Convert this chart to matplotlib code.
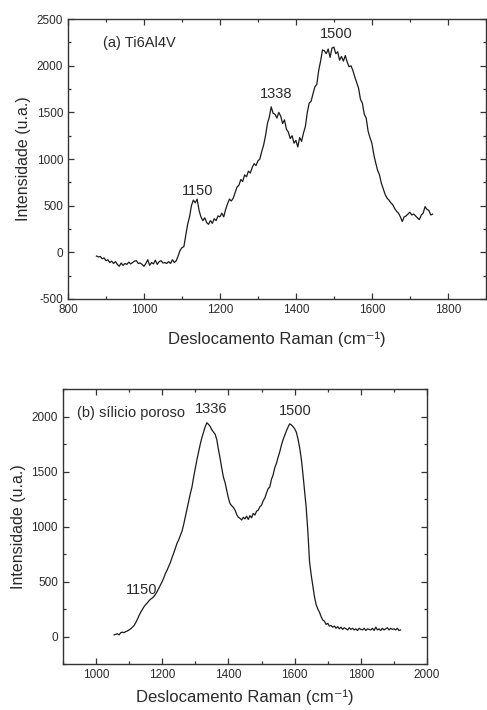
#Raman spectra: (a) Ti6Al4V and (b) porous silicon
import numpy as np
import matplotlib
matplotlib.use("Agg")
import matplotlib.pyplot as plt
from matplotlib.ticker import MultipleLocator

#spectrum (a): Ti6Al4V, sampled every 5 cm-1 from 875 to 1760
shiftA = np.arange(875, 1761, 5)
intensA = [
    -40, -50, -45, -70, -60, -90, -80, -110, -95, -120,
    -100, -130, -150, -115, -140, -120, -130, -105, -125, -110,
    -95, -90, -120, -115, -130, -150, -120, -80, -140, -110,
    -125, -85, -130, -100, -90, -115, -110, -120, -100, -120,
    -80, -110, -90, -40, 20, 50, 60, 180, 300, 380,
    500, 560, 530, 570, 450, 380, 340, 370, 320, 300,
    340, 310, 360, 340, 390, 380, 420, 380, 460, 520,
    570, 550, 580, 640, 700, 720, 780, 760, 830, 810,
    870, 850, 910, 950, 930, 980, 1000, 1080, 1150, 1250,
    1380, 1450, 1560, 1490, 1480, 1440, 1500, 1460, 1380, 1420,
    1320, 1290, 1220, 1250, 1170, 1200, 1130, 1230, 1190, 1280,
    1350, 1500, 1600, 1620, 1700, 1775, 1800, 1950, 2050, 2170,
    2160, 2130, 2180, 2090, 2190, 2200, 2130, 2150, 2060, 2100,
    2050, 2110, 2040, 1990, 2000, 1950, 1880, 1820, 1760, 1640,
    1600, 1480, 1440, 1300, 1230, 1170, 1050, 960, 880, 830,
    740, 680, 620, 580, 560, 530, 510, 470, 440, 420,
    380, 330, 380, 390, 410, 430, 400, 410, 390, 370,
    350, 400, 420, 490, 460, 450, 400, 410,
]

#spectrum (b): porous silicon, sampled every 5 cm-1 from 1055 to 1920
shiftB = np.arange(1055, 1921, 5)
intensB = [
    15, 20, 25, 15, 35, 40, 35, 45, 50, 60,
    70, 85, 100, 125, 155, 190, 220, 245, 270, 290,
    305, 325, 340, 350, 365, 385, 410, 440, 470, 500,
    535, 575, 605, 640, 675, 720, 760, 805, 850, 880,
    920, 960, 1020, 1090, 1160, 1230, 1300, 1360, 1450, 1530,
    1610, 1680, 1750, 1810, 1860, 1910, 1945, 1930, 1910, 1880,
    1860, 1840, 1790, 1700, 1620, 1530, 1450, 1400, 1330, 1260,
    1210, 1190, 1175, 1150, 1110, 1085, 1075, 1060, 1085, 1070,
    1095, 1065, 1100, 1080, 1120, 1105, 1140, 1150, 1180, 1195,
    1235, 1260, 1305, 1345, 1360, 1430, 1470, 1535, 1575, 1630,
    1680, 1740, 1790, 1830, 1870, 1905, 1935, 1925, 1910, 1890,
    1860, 1800, 1720, 1620, 1480, 1330, 1170, 950, 680, 560,
    460, 360, 290, 250, 220, 180, 150, 140, 110, 120,
    95, 100, 85, 95, 75, 90, 70, 85, 65, 80,
    70, 60, 80, 65, 75, 60, 70, 55, 75, 65,
    60, 75, 55, 70, 65, 60, 75, 55, 85, 60,
    70, 55, 75, 60, 70, 80, 60, 75, 65, 70,
    60, 75, 55, 60,
]

#peak labels (position, height, text)
peaksA = [(1142, 657, "1150"), (1347, 1694, "1338"), (1505, 2340, "1500")]
peaksB = [(1138, 425, "1150"), (1349, 2070, "1336"), (1601, 2048, "1500")]

textCol = "#2a2a2a"
plt.rcParams["font.family"] = ["Liberation Sans", "DejaVu Sans"]
plt.rcParams["axes.unicode_minus"] = False
plt.rcParams["text.color"] = textCol
plt.rcParams["axes.labelcolor"] = textCol
plt.rcParams["xtick.color"] = "#333333"
plt.rcParams["ytick.color"] = "#333333"
plt.rcParams["xtick.labelcolor"] = textCol
plt.rcParams["ytick.labelcolor"] = textCol

fig = plt.figure(figsize=(4.87, 7.10), dpi=100)
axA = fig.add_axes([0.1396, 0.579, 0.858, 0.394])
axB = fig.add_axes([0.129, 0.0648, 0.748, 0.387])


def style(ax, xmaj, ymaj, xpad, ypad):
    ax.xaxis.set_major_locator(MultipleLocator(xmaj))
    ax.xaxis.set_minor_locator(MultipleLocator(xmaj / 2))
    ax.yaxis.set_major_locator(MultipleLocator(ymaj))
    ax.yaxis.set_minor_locator(MultipleLocator(ymaj / 2))
    ax.tick_params(which="both", direction="in", top=True, right=True,
                   labelsize=8.5, width=0.9)
    ax.tick_params(which="major", length=4)
    ax.tick_params(which="minor", length=2.5)
    for s in ax.spines.values():
        s.set_linewidth(1.0)
        s.set_color("#333333")
    ax.set_xlabel("Deslocamento Raman (cm⁻¹)", fontsize=12, labelpad=xpad)
    ax.set_ylabel("Intensidade (u.a.)", fontsize=11.5, labelpad=ypad)


#(a) Ti6Al4V
axA.plot(shiftA, intensA, color="#1a1a1a", lw=0.9)
axA.set_xlim(800, 1900)
axA.set_ylim(-500, 2500)
style(axA, 200, 500, 11, 4)
axA.text(0.084, 0.914, "(a) Ti6Al4V", transform=axA.transAxes,
         fontsize=10.5, va="center", ha="left")
for px, py, lab in peaksA:
    axA.text(px, py, lab, fontsize=10.5, ha="center", va="center")

#(b) porous silicon
axB.plot(shiftB, intensB, color="#1a1a1a", lw=0.9)
axB.set_xlim(900, 2000)
axB.set_ylim(-250, 2250)
style(axB, 200, 500, 6, 4)
axB.text(0.038, 0.912, "(b) sílicio poroso", transform=axB.transAxes,
         fontsize=10.5, va="center", ha="left")
for px, py, lab in peaksB:
    axB.text(px, py, lab, fontsize=10.5, ha="center", va="center")

fig.savefig("out.png", dpi=100)
